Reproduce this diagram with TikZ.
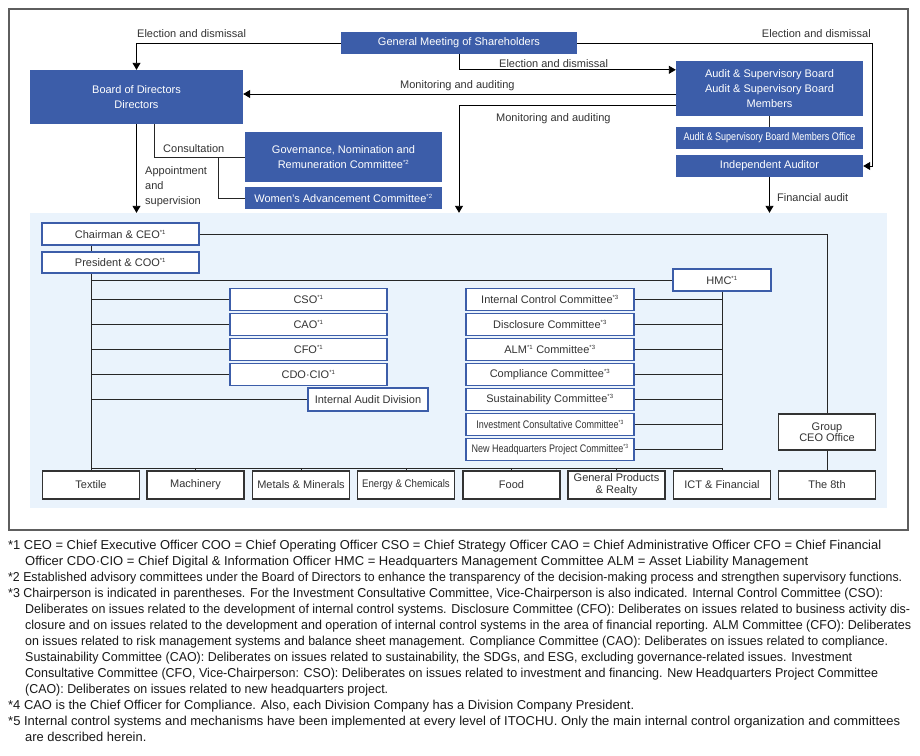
\documentclass[tikz,border=0pt]{standalone}
\usepackage{fontspec}
\usepackage{graphicx}
\setmainfont{Liberation Sans}
\usetikzlibrary{arrows.meta}
\definecolor{ablue}{HTML}{3C5DA9}
\definecolor{dgray}{HTML}{333333}
\definecolor{lbg}{HTML}{EAF3FC}
\definecolor{framec}{HTML}{5E5E5E}
\newcommand\dfont{\fontsize{11}{15}\selectfont}
\newcommand\ffont{\fontsize{12.9}{16}\selectfont}
\newcommand\smk[1]{\textsuperscript{\fontsize{6}{6}\selectfont *#1}}
\newcommand\cond[2]{\scalebox{#1}[1]{#2}}
\newcommand\fline[2]{\resizebox{#1pt}{\height}{#2}}
\tikzset{
  bluebox/.style={fill=ablue, text=white, inner sep=0pt, align=center, font=\dfont},
  wbox/.style={draw=ablue, line width=1.1pt, fill=white, text=dgray, inner sep=0pt, align=center, font=\dfont},
  dbox/.style={draw=dgray, line width=1.1pt, fill=white, text=dgray, inner sep=0pt, align=center, font=\dfont, minimum width=97pt, minimum height=28pt},
  lbl/.style={text=dgray, font=\dfont, inner sep=0pt},
  fn/.style={text=black!90, font=\ffont, inner sep=0pt, anchor=base west},
  arr/.style={-{Triangle[length=7pt,width=8pt]}, line width=0.9pt, draw=black},
  ln/.style={line width=0.9pt, draw=black!85},
}
\begin{document}
\begin{tikzpicture}[x=1pt,y=-1pt]
\useasboundingbox (0,0) rectangle (920,755);
\fill[white] (0,0) rectangle (920,755);
% outer frame
\draw[framec, line width=1.6pt] (9,9) rectangle (908,530);
% organisation background
\node[fill=lbg, inner sep=0pt, minimum width=857pt, minimum height=295pt] (org) at (458.5,360.5) {};

% top blue boxes
\node[bluebox, minimum width=236pt, minimum height=22pt] (gm) at (459,43) {General Meeting of Shareholders};
\node[bluebox, minimum width=213pt, minimum height=54pt] (bod) at (136.5,97) {Board of Directors\\Directors};
\node[bluebox, minimum width=187pt, minimum height=55pt] (asb) at (769.5,88.5) {Audit \& Supervisory Board\\Audit \& Supervisory Board\\Members};
\node[bluebox, minimum width=187pt, minimum height=22pt] (asbo) at (769.5,138) {\cond{0.82}{Audit \& Supervisory Board Members Office}};
\node[bluebox, minimum width=187pt, minimum height=22pt] (ia) at (769.5,166) {Independent Auditor};
\node[bluebox, minimum width=197pt, minimum height=50pt] (gov) at (343.5,157) {Governance, Nomination and\\Remuneration Committee\smk{2}};
\node[bluebox, minimum width=197pt, minimum height=22pt] (wac) at (343.5,198) {Women’s Advancement Committee\smk{2}};

% top connectors
\draw[arr] (gm.west) -| (bod.north);
\draw[arr] (gm.east) -| (872,166) -- (ia.east);
\draw[arr] (gm.south) |- ([yshift=-9pt]asb.north west);
\draw[arr] ([yshift=-5.5pt]asb.west) -- ([yshift=-5.5pt]asb.west -| bod.east);
\draw[arr] ([yshift=-16.5pt]asb.west) -| (gm.south |- org.north);
\draw[arr] (bod.south) -- (bod.south |- org.north);
\draw[ln] ([xshift=18pt]bod.south) |- (gov.west);
\draw[ln] ([xshift=-26pt]gov.west) |- (wac.west);
\draw[ln] (asb.south) -- (asbo.north);
\draw[arr] (ia.south) -- (ia.south |- org.north);

% labels
\node[lbl, anchor=base west] (l1) at (137,37) {Election and dismissal};
\node[lbl, anchor=base east] (l2) at (871,37) {Election and dismissal};
\node[lbl, anchor=base west] (l3) at (499,67) {Election and dismissal};
\node[lbl, anchor=base west] (l4) at (400,88) {Monitoring and auditing};
\node[lbl, anchor=base west] (l5) at (496,121) {Monitoring and auditing};
\node[lbl, anchor=base west] (l6) at (163,152) {Consultation};
\node[lbl, anchor=north west, align=left] (l7) at (145,166) {Appointment\\and\\supervision};
\node[lbl, anchor=base west] (l8) at (777,201) {Financial audit};

% inner boxes
\node[wbox, minimum width=157pt, minimum height=22pt] (ceo) at (120.5,234) {Chairman \& CEO\smk{1}};
\node[wbox, minimum width=157pt, minimum height=21pt] (coo) at (120.5,262.5) {President \& COO\smk{1}};
\node[wbox, minimum width=98pt, minimum height=22pt] (hmc) at (722,280) {HMC\smk{1}};
\node[wbox, minimum width=157pt, minimum height=22pt] (cso) at (308.5,299.5) {CSO\smk{1}};
\node[wbox, minimum width=157pt, minimum height=22pt] (cao) at (308.5,324.5) {CAO\smk{1}};
\node[wbox, minimum width=157pt, minimum height=22pt] (cfo) at (308.5,349.5) {CFO\smk{1}};
\node[wbox, minimum width=157pt, minimum height=22pt] (cdo) at (308.5,374.5) {CDO·CIO\smk{1}};
\node[wbox, minimum width=120pt, minimum height=23pt] (iad) at (368,399.5) {Internal Audit Division};

\node[wbox, minimum width=168pt, minimum height=22pt] (icc) at (550,299.5) {Internal Control Committee\smk{3}};
\node[wbox, minimum width=168pt, minimum height=22pt] (dsc) at (550,324.5) {Disclosure Committee\smk{3}};
\node[wbox, minimum width=168pt, minimum height=22pt] (alm) at (550,349.5) {ALM\smk{1} Committee\smk{3}};
\node[wbox, minimum width=168pt, minimum height=22pt] (cpc) at (550,374.5) {Compliance Committee\smk{3}};
\node[wbox, minimum width=168pt, minimum height=22pt] (sus) at (550,399.5) {Sustainability Committee\smk{3}};
\node[wbox, minimum width=168pt, minimum height=22pt] (inv) at (550,424.5) {\cond{0.82}{Investment Consultative Committee\smk{3}}};
\node[wbox, minimum width=168pt, minimum height=22pt] (nhq) at (550,449.5) {\cond{0.82}{New Headquarters Project Committee\smk{3}}};

\node[dbox, minimum height=36pt, font=\fontsize{11}{11.5}\selectfont] (gceo) at (827,432) {Group\\CEO Office};

% divisions
\node[dbox] (tex) at (91,485) {Textile};
\node[dbox] (mac) at (195.5,485) {Machinery};
\node[dbox] (met) at (301,485) {Metals \& Minerals};
\node[dbox] (ene) at (406,485) {\cond{0.88}{Energy \& Chemicals}};
\node[dbox] (food) at (511.5,485) {Food};
\node[dbox, font=\fontsize{11}{12}\selectfont] (gen) at (616.5,485) {General Products\\\& Realty};
\node[dbox] (ict) at (722,485) {ICT \& Financial};
\node[dbox] (the8) at (827,485) {The 8th};

% inner connectors
\coordinate (busy) at (0,468);
\draw[ln] (tex.north |- ceo.south) -- (tex.north |- coo.north);
\draw[ln] (tex.north |- coo.south) -- (tex.north);
\draw[ln] (ceo.east) -| (gceo.north);
\draw[ln] (gceo.south) -- (the8.north);
\draw[ln] (tex.north |- hmc.west) -- (hmc.west);
\foreach \n in {cso,cao,cfo,cdo,iad} \draw[ln] (tex.north |- \n.west) -- (\n.west);
\draw[ln] (hmc.south) |- (nhq.east);
\foreach \n in {icc,dsc,alm,cpc,sus,inv} \draw[ln] (\n.east) -- (\n.east -| hmc.south);
\draw[ln] (tex.north |- busy) -- (ict.north |- busy);
\foreach \n in {mac,met,ene,food,gen,ict} \draw[ln] (\n.north |- busy) -- (\n.north);

% footnotes
\node[fn] (f1) at (8,549) {\fline{873}{*1 CEO = Chief Executive Officer COO = Chief Operating Officer CSO = Chief Strategy Officer CAO = Chief Administrative Officer CFO = Chief Financial}};
\node[fn] (f2) at (25,565) {\fline{783}{Officer CDO·CIO = Chief Digital \& Information Officer HMC = Headquarters Management Committee ALM = Asset Liability Management}};
\node[fn] (f3) at (8,581) {\fline{894}{*2 Established advisory committees under the Board of Directors to enhance the transparency of the decision-making process and strengthen supervisory functions.}};
\node[fn] (f4) at (8,597) {\fline{875}{*3 Chairperson is indicated in parentheses. For the Investment Consultative Committee, Vice-Chairperson is also indicated. Internal Control Committee (CSO):}};
\node[fn] (f5) at (25,613) {\fline{885}{Deliberates on issues related to the development of internal control systems. Disclosure Committee (CFO): Deliberates on issues related to business activity dis-}};
\node[fn] (f6) at (25,629) {\fline{886}{closure and on issues related to the development and operation of internal control systems in the area of financial reporting. ALM Committee (CFO): Deliberates}};
\node[fn] (f7) at (25,645) {\fline{863}{on issues related to risk management systems and balance sheet management. Compliance Committee (CAO): Deliberates on issues related to compliance.}};
\node[fn] (f8) at (25,661) {\fline{827}{Sustainability Committee (CAO): Deliberates on issues related to sustainability, the SDGs, and ESG, excluding governance-related issues. Investment}};
\node[fn] (f9) at (25,677) {\fline{853}{Consultative Committee (CFO, Vice-Chairperson: CSO): Deliberates on issues related to investment and financing. New Headquarters Project Committee}};
\node[fn] (f10) at (25,693) {\fline{363}{(CAO): Deliberates on issues related to new headquarters project.}};
\node[fn] (f11) at (8,709) {\fline{626}{*4 CAO is the Chief Officer for Compliance. Also, each Division Company has a Division Company President.}};
\node[fn] (f12) at (8,725) {\fline{892}{*5 Internal control systems and mechanisms have been implemented at every level of ITOCHU. Only the main internal control organization and committees}};
\node[fn] (f13) at (25,741) {are described herein.};
\end{tikzpicture}
\end{document}
